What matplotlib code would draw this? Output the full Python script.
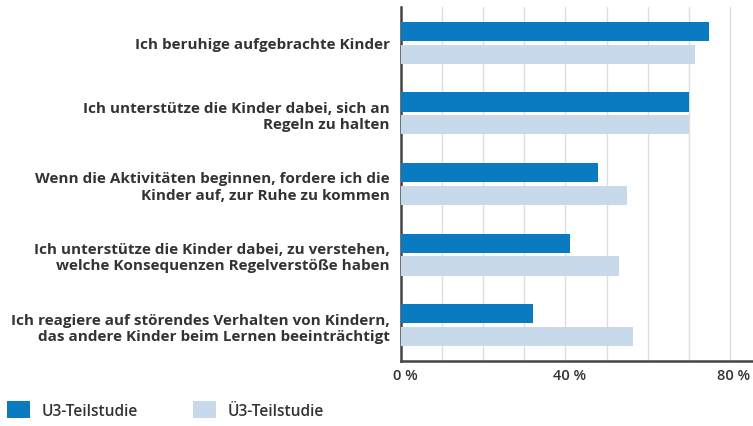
import numpy as np
import matplotlib
matplotlib.use("Agg")
import matplotlib.pyplot as plt
import matplotlib.transforms as mtransforms
from matplotlib.patches import Patch

categories = [
    "Ich beruhige aufgebrachte Kinder",
    "Ich unterstütze die Kinder dabei, sich an\nRegeln zu halten",
    "Wenn die Aktivitäten beginnen, fordere ich die\nKinder auf, zur Ruhe zu kommen",
    "Ich unterstütze die Kinder dabei, zu verstehen,\nwelche Konsequenzen Regelverstöße haben",
    "Ich reagiere auf störendes Verhalten von Kindern,\ndas andere Kinder beim Lernen beeinträchtigt",
]
u3_values = [75, 70, 48, 41, 32]
ue3_values = [71.5, 70, 55, 53, 56.5]
series_names = ["U3-Teilstudie", "Ü3-Teilstudie"]
tick_values = [0, 40, 80]
tick_labels = ["0 %", "40 %", "80 %"]

DARK = "#0a7bc0"
LIGHT = "#c9d9ec"
AXIS = "#444444"
TEXT = "#333333"

plt.rcParams["font.family"] = ["Open Sans", "DejaVu Sans"]

fig = plt.figure(figsize=(7.53, 4.27), dpi=100)
ax = fig.add_axes([401 / 753, 1 - 362 / 427, 1 - 401 / 753, (362 - 8) / 427])

y = np.arange(len(categories))
bar_h = 0.27
off = 0.163
ax.barh(y - off, u3_values, height=bar_h, color=DARK, zorder=3)
ax.barh(y + off, ue3_values, height=bar_h, color=LIGHT, zorder=3)

ax.set_xlim(0, 85.6)
ax.set_ylim(len(categories) - 0.49, -0.51)

# light vertical grid every 10 %
for gx in range(10, 90, 10):
    ax.axvline(gx, color="#dedede", lw=1.0, zorder=1)

for side in ("top", "right"):
    ax.spines[side].set_visible(False)
for side in ("left", "bottom"):
    ax.spines[side].set_color(AXIS)
    ax.spines[side].set_linewidth(1.8)

ax.set_yticks(y)
ax.set_yticklabels(categories, fontsize=11, fontweight="bold", color=TEXT,
                   linespacing=1.2)
ax.tick_params(axis="y", length=0, pad=8)

ax.set_xticks(tick_values)
ax.set_xticklabels(tick_labels, fontsize=10.5, fontweight="semibold", color=TEXT)
ax.tick_params(axis="x", length=0, pad=5)
shift = mtransforms.ScaledTranslation(4 / 100, 0, fig.dpi_scale_trans)
for lbl in ax.get_xticklabels():
    lbl.set_transform(lbl.get_transform() + shift)

handles = [Patch(facecolor=DARK, edgecolor="none"), Patch(facecolor=LIGHT, edgecolor="none")]
fig.legend(handles, series_names, loc="center left", bbox_to_anchor=(7 / 753, 1 - 411 / 427),
           ncol=2, frameon=False, handlelength=1.5, handleheight=1.25, handletextpad=0.75,
           columnspacing=3.5, prop={"family": ["Open Sans", "DejaVu Sans"], "weight": "semibold", "size": 11.2},
           labelcolor=TEXT, borderaxespad=0.0, borderpad=0.0)

fig.savefig("out.png", dpi=100)
